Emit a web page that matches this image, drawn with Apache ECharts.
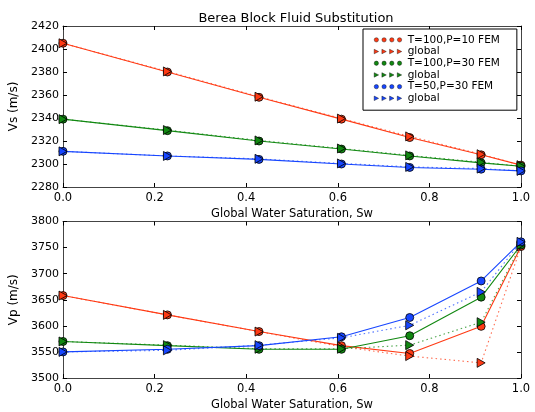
<!DOCTYPE html>
<html>
<head>
<meta charset="utf-8">
<script src="https://cdn.jsdelivr.net/npm/echarts@6/dist/echarts.min.js"></script>
<style>html,body{margin:0;padding:0;background:#fff}#c{width:535px;height:412px}</style>
</head>
<body>
<div id="c"></div>
<script>
// ---- data ----
const sw = [0, 0.228, 0.428, 0.608, 0.757, 0.913, 1.0];
const xTicks = [0, 0.2, 0.4, 0.6, 0.8, 1.0];
const vsTicks = [2280, 2300, 2320, 2340, 2360, 2380, 2400, 2420];
const vpTicks = [3500, 3550, 3600, 3650, 3700, 3750, 3800];
const legendLabels = ['T=100,P=10 FEM', 'global', 'T=100,P=30 FEM', 'global', 'T=50,P=30 FEM', 'global'];

const vsRedFem     = [2405, 2380, 2358, 2339, 2323, 2308, 2299];
const vsRedGlobal  = [2405, 2380.5, 2358.5, 2339.5, 2324, 2308.5, 2299];
const vsGreenFem   = [2339, 2329, 2320, 2313, 2307, 2301, 2298];
const vsGreenGlobal= [2339, 2329.5, 2320.5, 2313.5, 2307.5, 2301.5, 2298];
const vsBlueFem    = [2311, 2307, 2304, 2300, 2297, 2295.5, 2294];
const vsBlueGlobal = [2311, 2307, 2304.5, 2300.5, 2297.5, 2296, 2294];

const vpRedFem     = [3658, 3621, 3589, 3562, 3547, 3599, 3752];
const vpRedGlobal  = [3658, 3621, 3589, 3560, 3542, 3529, 3752];
const vpGreenFem   = [3570, 3562, 3555, 3555, 3581, 3655, 3755];
const vpGreenGlobal= [3570, 3563, 3556, 3556, 3563, 3607, 3755];
const vpBlueFem    = [3550, 3555, 3562, 3579, 3616, 3686, 3761];
const vpBlueGlobal = [3550, 3553, 3563, 3577, 3601, 3665, 3761];

// ---- styles ----
const RED = '#ff3a14', GREEN = '#118811', BLUE = '#1746ff';
const FONT = 'DejaVu Sans';
const TRI = 'path://M0,0L10,5L0,10Z';
const dotsIcon = 'path://M0.4,2.5A2.1,2.1 0 1,1 4.6,2.5A2.1,2.1 0 1,1 0.4,2.5Z' +
  'M7.9,2.5A2.1,2.1 0 1,1 12.1,2.5A2.1,2.1 0 1,1 7.9,2.5Z' +
  'M15.4,2.5A2.1,2.1 0 1,1 19.6,2.5A2.1,2.1 0 1,1 15.4,2.5Z' +
  'M22.9,2.5A2.1,2.1 0 1,1 27.1,2.5A2.1,2.1 0 1,1 22.9,2.5Z';
const trisIcon = 'path://M0.5,0.3L4.8,2.5L0.5,4.7Z M8,0.3L12.3,2.5L8,4.7Z M15.5,0.3L19.8,2.5L15.5,4.7Z M23,0.3L27.3,2.5L23,4.7Z';

const pairs = v => sw.map((x, i) => [x, v[i]]);

function ser(name, data, color, isGlobal, gi) {
  return {
    name: name, type: 'line', xAxisIndex: gi * 2, yAxisIndex: gi * 2,
    data: pairs(data),
    symbol: isGlobal ? TRI : 'circle',
    symbolSize: isGlobal ? [8, 9] : 8,
    lineStyle: { color: color, width: 1.1, type: isGlobal ? [1.5, 3] : 'solid', opacity: isGlobal ? 0.75 : 1 },
    itemStyle: { color: color, borderColor: '#000', borderWidth: 0.8 },
    emphasis: { disabled: true },
    animation: false, z: 3
  };
}

function xAx(gi, pos, labels) {
  return {
    type: 'value', gridIndex: gi, min: 0, max: 1, interval: 0.2, position: pos,
    axisLine: { show: true, onZero: false, lineStyle: { color: '#444', width: 1 } },
    axisTick: { show: true, inside: true, length: 4, lineStyle: { color: '#000' } },
    axisLabel: { show: labels, fontFamily: FONT, fontSize: 11.5, color: '#000', margin: 5,
      formatter: v => v.toFixed(1) },
    splitLine: { show: false },
    name: labels ? 'Global Water Saturation, Sw' : '',
    nameLocation: 'middle', nameGap: 21,
    nameTextStyle: { fontFamily: FONT, fontSize: 11.5, color: '#000' }
  };
}
function yAx(gi, pos, labels, min, max, step, name) {
  return {
    type: 'value', gridIndex: gi, min: min, max: max, interval: step, position: pos,
    axisLine: { show: true, onZero: false, lineStyle: { color: '#444', width: 1 } },
    axisTick: { show: true, inside: true, length: 4, lineStyle: { color: '#000' } },
    axisLabel: { show: labels, fontFamily: FONT, fontSize: 11, color: '#000', margin: 4,
      formatter: v => String(v) },
    splitLine: { show: false },
    name: labels ? name : '', nameLocation: 'middle', nameGap: 43,
    nameTextStyle: { fontFamily: FONT, fontSize: 12, color: '#000' }
  };
}

const names = ['T=100,P=10 FEM', 'global_1', 'T=100,P=30 FEM', 'global_2', 'T=50,P=30 FEM', 'global_3'];

const option = {
  backgroundColor: '#fff',
  animation: false,
  title: {
    text: 'Berea Block Fluid Substitution', left: 291, top: 7, textAlign: 'center',
    textStyle: { fontFamily: FONT, fontSize: 13, fontWeight: 'normal', color: '#000' }
  },
  grid: [
    { left: 62, top: 26, width: 459, height: 161 },
    { left: 62, top: 221.5, width: 459, height: 161 }
  ],
  xAxis: [xAx(0, 'bottom', true), xAx(0, 'top', false), xAx(1, 'bottom', true), xAx(1, 'top', false)],
  yAxis: [
    yAx(0, 'left', true, vsTicks[0], vsTicks[vsTicks.length - 1], 20, 'Vs (m/s)'),
    yAx(0, 'right', false, vsTicks[0], vsTicks[vsTicks.length - 1], 20, ''),
    yAx(1, 'left', true, vpTicks[0], vpTicks[vpTicks.length - 1], 50, 'Vp (m/s)'),
    yAx(1, 'right', false, vpTicks[0], vpTicks[vpTicks.length - 1], 50, '')
  ],
  legend: {
    orient: 'vertical', left: 363, top: 29,
    padding: [5, 17, 6, 11],
    backgroundColor: '#fff', borderColor: '#000', borderWidth: 1, borderRadius: 0,
    itemWidth: 27.5, itemHeight: 5, itemGap: 0,
    selectedMode: false,
    textStyle: { fontFamily: FONT, fontSize: 10.5, color: '#000', lineHeight: 11.7, padding: [0, 0, 0, 1] },
    itemStyle: { borderColor: '#000', borderWidth: 0.4 },
    formatter: n => legendLabels[names.indexOf(n)],
    data: names.map((n, i) => ({ name: n, icon: i % 2 === 0 ? dotsIcon : trisIcon })),
    z: 10
  },
  series: [
    ser(names[0], vsRedFem, RED, false, 0),
    ser(names[1], vsRedGlobal, RED, true, 0),
    ser(names[2], vsGreenFem, GREEN, false, 0),
    ser(names[3], vsGreenGlobal, GREEN, true, 0),
    ser(names[4], vsBlueFem, BLUE, false, 0),
    ser(names[5], vsBlueGlobal, BLUE, true, 0),
    ser('vp ' + names[0], vpRedFem, RED, false, 1),
    ser('vp ' + names[1], vpRedGlobal, RED, true, 1),
    ser('vp ' + names[2], vpGreenFem, GREEN, false, 1),
    ser('vp ' + names[3], vpGreenGlobal, GREEN, true, 1),
    ser('vp ' + names[4], vpBlueFem, BLUE, false, 1),
    ser('vp ' + names[5], vpBlueGlobal, BLUE, true, 1)
  ]
};
const chart = echarts.init(document.getElementById('c'), null, { renderer: 'canvas' });
chart.setOption(option);
</script>
</body>
</html>
